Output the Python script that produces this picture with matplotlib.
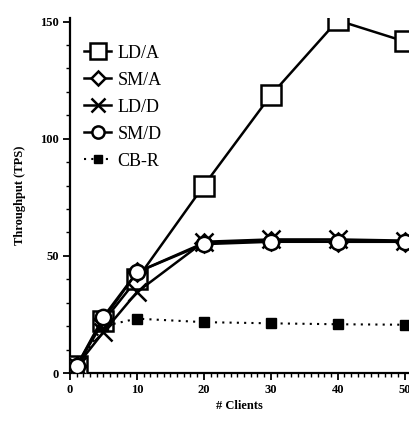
import matplotlib
matplotlib.use("Agg")
import matplotlib.pyplot as plt
from matplotlib.ticker import MultipleLocator

clients = [1, 5, 10, 20, 30, 40, 50]
ld_a = [3, 22, 40, 80, 118.5, 150.5, 141.5]
sm_a = [3, 23, 43, 55.5, 56.5, 56, 56]
ld_d = [3, 17.5, 34.5, 56, 57, 57, 56.5]
sm_d = [3, 24, 43, 55, 56, 56, 56]
cb_r = [3, 20, 23.2, 21.7, 21.2, 20.8, 20.6]

plt.rcParams['font.family'] = ['Liberation Serif', 'DejaVu Serif']
plt.rcParams['font.weight'] = 'bold'

fig = plt.figure(figsize=(4.1, 4.22), dpi=100)
ax = fig.add_axes([70/410, 49/422, 338/410, 355/422])

lw = 1.8
ax.plot(clients, ld_a, color='black', lw=lw, marker='s', ms=15, mfc='white', mew=1.8, label='LD/A', zorder=3)
ax.plot(clients, sm_a, color='black', lw=lw, marker='D', ms=9, mfc='white', mew=1.8, label='SM/A', zorder=4)
ax.plot(clients, ld_d, color='black', lw=lw, marker='x', ms=13, mew=1.8, label='LD/D', zorder=4)
ax.plot(clients, sm_d, color='black', lw=lw, marker='o', ms=11, mfc='white', mew=1.8, label='SM/D', zorder=5)
ax.plot(clients, cb_r, color='black', lw=1.5, ls=(0, (1, 2.5)), marker='s', ms=7, mfc='black', label='CB-R', zorder=3)

ax.set_xlim(0, 50.5)
ax.set_ylim(0, 151.5)
ax.xaxis.set_major_locator(MultipleLocator(10))
ax.xaxis.set_minor_locator(MultipleLocator(1))
ax.yaxis.set_major_locator(MultipleLocator(50))
ax.yaxis.set_minor_locator(MultipleLocator(10))
for s in ['top', 'right']:
    ax.spines[s].set_visible(False)
for s in ['left', 'bottom']:
    ax.spines[s].set_linewidth(1.6)
ax.tick_params(which='major', length=5, width=1.3, labelsize=9, pad=3)
ax.tick_params(which='minor', length=3, width=1.0)

ax.set_xlabel('# Clients', fontsize=9, fontweight='bold', labelpad=3)
ax.set_ylabel('Throughput (TPS)', fontsize=9, fontweight='bold', labelpad=10)

leg = ax.legend(loc='upper left', bbox_to_anchor=(0.01, 0.955), frameon=False,
                fontsize=13, handlelength=1.5, handletextpad=0.35, labelspacing=0.55,
                markerscale=0.8, borderaxespad=0.2)
for t in leg.get_texts():
    t.set_fontweight('normal')

fig.savefig('out.png', dpi=100)
